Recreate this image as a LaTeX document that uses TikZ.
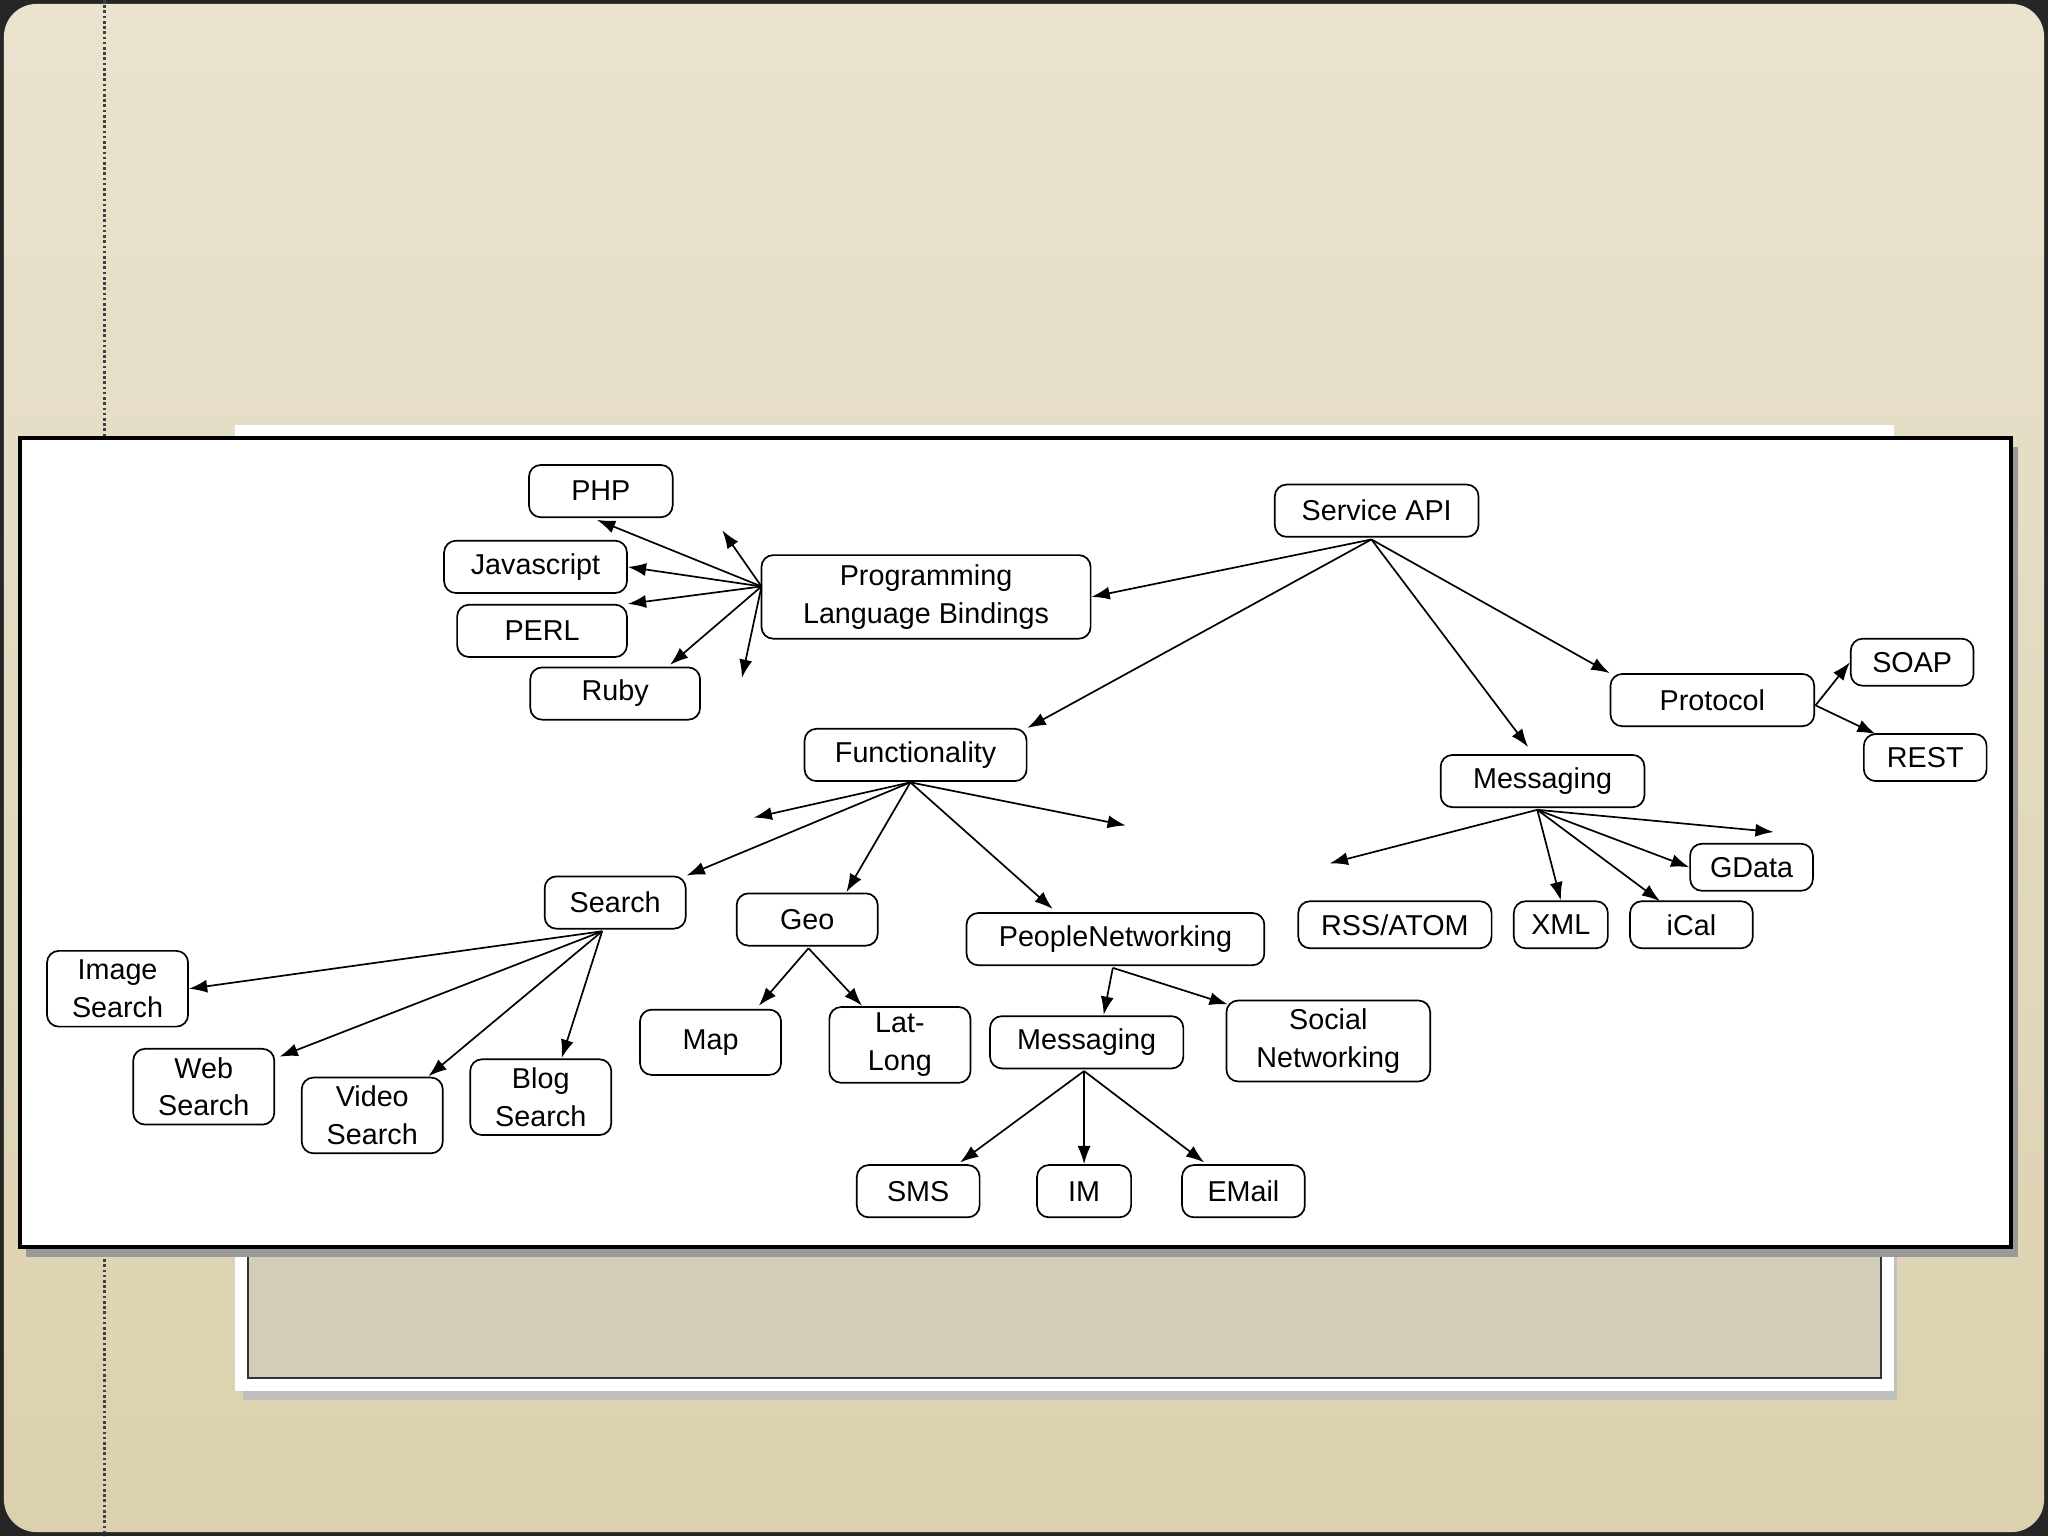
\documentclass[tikz,border=0pt]{standalone}
\usepackage{fontspec}
\usetikzlibrary{arrows.meta}
\setmainfont{Liberation Sans}
\definecolor{bgtop}{HTML}{E9E3CF}
\definecolor{bgbot}{HTML}{DCD1AE}
\definecolor{inner}{HTML}{D3CCB8}
\begin{document}
\begin{tikzpicture}[x=1pt,y=-1pt,
  box/.style={draw,rounded corners=9pt,line width=1.3pt,fill=white,align=center,font=\fontsize{22}{29}\selectfont,inner sep=0pt},
  ar/.style={-{Latex[length=14pt,width=10pt]},line width=1.3pt}]
\useasboundingbox (0,0) rectangle (1568,1176);
\fill[black!85] (0,0) rectangle (1568,1176);
\shade[top color=bgtop, bottom color=bgbot,rounded corners=25pt] (3,3) rectangle (1565,1173);
\draw[dotted,line width=2pt,black!75] (80,0) -- (80,1176);
% back paper
\fill[black!25] (186,335) rectangle (1452,1072);
\fill[white] (180,325) rectangle (1450,1065);
\fill[inner] (190,950) rectangle (1440,1055);
\draw[line width=2pt,black!80] (190,950) rectangle (1440,1055);
% white panel
\fill[black!40] (20,342) rectangle (1545,962);
\draw[fill=white,line width=3pt] (15,335) rectangle (1540,955);
% nodes
\node[box,minimum width=110pt,minimum height=40pt] (php) at (460,376) {PHP};
\node[box,minimum width=140pt,minimum height=40pt] (js) at (410,434) {Javascript};
\node[box,minimum width=130pt,minimum height=40pt] (perl) at (415,483) {PERL};
\node[box,minimum width=130pt,minimum height=40pt] (ruby) at (471,531) {Ruby};
\node[box,minimum width=252pt,minimum height=64pt] (plb) at (709,457) {Programming\\Language Bindings};
\node[box,minimum width=156pt,minimum height=40pt] (sapi) at (1054,391) {Service API};
\node[box,minimum width=170pt,minimum height=40pt] (func) at (701,578) {Functionality};
\node[box,minimum width=156pt,minimum height=40pt] (prot) at (1311,536) {Protocol};
\node[box,minimum width=94pt,minimum height=36pt] (soap) at (1464,507) {SOAP};
\node[box,minimum width=94pt,minimum height=36pt] (rest) at (1474,580) {REST};
\node[box,minimum width=156pt,minimum height=40pt] (msg) at (1181,598) {Messaging};
\node[box,minimum width=148pt,minimum height=36pt] (rss) at (1068,708) {RSS/ATOM};
\node[box,minimum width=72pt,minimum height=36pt] (xml) at (1195,708) {XML};
\node[box,minimum width=94pt,minimum height=36pt] (ical) at (1295,708) {iCal};
\node[box,minimum width=94pt,minimum height=36pt] (gdata) at (1341,664) {GData};
\node[box,minimum width=108pt,minimum height=40pt] (search) at (471,691) {Search};
\node[box,minimum width=108pt,minimum height=40pt] (geo) at (618,704) {Geo};
\node[box,minimum width=228pt,minimum height=40pt] (pn) at (854,719) {PeopleNetworking};
\node[box,minimum width=108pt,minimum height=58pt] (img) at (90,757) {Image\\Search};
\node[box,minimum width=108pt,minimum height=58pt] (web) at (156,832) {Web\\Search};
\node[box,minimum width=108pt,minimum height=58pt] (vid) at (285,854) {Video\\Search};
\node[box,minimum width=108pt,minimum height=58pt] (blog) at (414,840) {Blog\\Search};
\node[box,minimum width=108pt,minimum height=50pt] (map) at (544,798) {Map};
\node[box,minimum width=108pt,minimum height=58pt] (ll) at (689,800) {Lat-\\Long};
\node[box,minimum width=148pt,minimum height=40pt] (msg2) at (832,798) {Messaging};
\node[box,minimum width=156pt,minimum height=62pt] (soc) at (1017,797) {Social\\Networking};
\node[box,minimum width=94pt,minimum height=40pt] (sms) at (703,912) {SMS};
\node[box,minimum width=72pt,minimum height=40pt] (im) at (830,912) {IM};
\node[box,minimum width=94pt,minimum height=40pt] (email) at (952,912) {EMail};
% hubs and dangling ends
\coordinate (hS) at (1050,413);
\coordinate (hP) at (583,449);
\coordinate (hF) at (697,599);
\coordinate (hSe) at (461,713);
\coordinate (hG) at (619,726);
\coordinate (hPN) at (852,741);
\coordinate (hM2) at (830,820);
\coordinate (hM) at (1177,620);
\coordinate (hPr) at (1390,540);
\coordinate (d1) at (553,406);
\coordinate (d2) at (568,519);
\coordinate (d3) at (577,626);
\coordinate (d4) at (862,632);
\coordinate (d5) at (1018,661);
\coordinate (d6) at (1358,637);
% edges
\draw[ar] (hS) -- (plb.east);
\draw[ar] (hS) -- (func.north east);
\draw[ar] (hS) -- (1170,572);
\draw[ar] (hS) -- (prot.north west);
\draw[ar] (hP) -- (457,398);
\draw[ar] (hP) -- (js.east);
\draw[ar] (hP) -- (perl.north east);
\draw[ar] (hP) -- (513,509);
\draw[ar] (hP) -- (d1);
\draw[ar] (hP) -- (d2);
\draw[ar] (hF) -- (d3);
\draw[ar] (hF) -- (d4);
\draw[ar] (hF) -- (search.north east);
\draw[ar] (hF) -- (648,683);
\draw[ar] (hF) -- (806,696);
\draw[ar] (hSe) -- (img.east);
\draw[ar] (hSe) -- (214,809);
\draw[ar] (hSe) -- (328,824);
\draw[ar] (hSe) -- (430,810);
\draw[ar] (hG) -- (581,770);
\draw[ar] (hG) -- (660,770);
\draw[ar] (hPN) -- (845,777);
\draw[ar] (hPN) -- (940,769);
\draw[ar] (hM2) -- (735,890);
\draw[ar] (hM2) -- (im.north);
\draw[ar] (hM2) -- (922,890);
\draw[ar] (hM) -- (d5);
\draw[ar] (hM) -- (xml.north);
\draw[ar] (hM) -- (1271,690);
\draw[ar] (hM) -- (gdata.west);
\draw[ar] (hM) -- (d6);
\draw[ar] (hPr) -- (soap.west);
\draw[ar] (hPr) -- (1436,562);
\end{tikzpicture}
\end{document}
